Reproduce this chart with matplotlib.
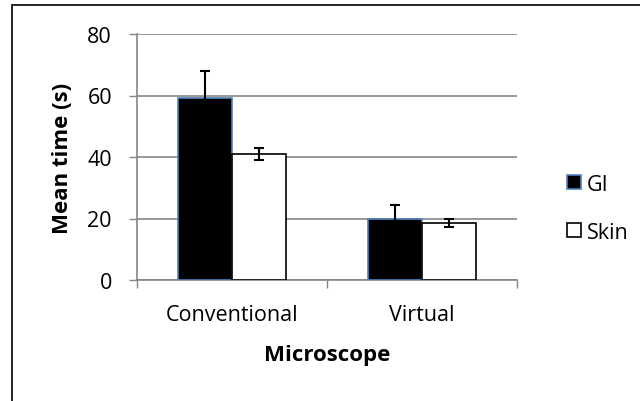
import numpy as np
import matplotlib.pyplot as plt
from matplotlib.patches import Patch, Rectangle

categories = ['Conventional', 'Virtual']
gi_mean = [59.2, 20.0]
gi_err = [8.8, 4.5]
skin_mean = [41.0, 18.5]
skin_err = [2.0, 1.4]

plt.rcParams['font.family'] = ['Open Sans', 'DejaVu Sans']
FS = 15.5

fig = plt.figure(figsize=(6.4, 4.02), dpi=100)
ax = fig.add_axes([137/640, 1 - 281/402, 380/640, 246/402])

# outer chart frame (only left and top edges show in the reference)
fig.patches.append(Rectangle((12/640, -0.1), 1.2, 1 - 6/402 + 0.1,
                             transform=fig.transFigure, fill=False,
                             edgecolor='black', linewidth=1.2))

x = np.arange(len(categories))
w = 0.285
ax.bar(x - w/2, gi_mean, w, color='black', edgecolor='#4F81BD', linewidth=1.2,
       label='GI', zorder=3)
ax.bar(x + w/2, skin_mean, w, color='white', edgecolor='black', linewidth=1.2,
       label='Skin', zorder=3)
ax.errorbar(x - w/2, gi_mean, yerr=gi_err, fmt='none', ecolor='black',
            elinewidth=1.5, capsize=3.6, capthick=1.5, zorder=4)
ax.errorbar(x + w/2, skin_mean, yerr=skin_err, fmt='none', ecolor='black',
            elinewidth=1.5, capsize=3.6, capthick=1.5, zorder=4)

ax.set_xlim(-0.5, 1.5)
ax.set_ylim(0, 80)
ax.set_yticks([0, 20, 40, 60, 80])
ax.set_xticks([-0.5, 0.5, 1.5])
ax.set_xticklabels([])
ax.set_xticks(x, minor=True)
ax.set_xticklabels(categories, minor=True)
ax.tick_params(axis='x', which='minor', length=0, pad=17, labelsize=FS)
ax.tick_params(axis='x', which='major', length=6, color='#868686', width=1)
ax.tick_params(axis='y', length=6, color='#868686', width=1, labelsize=FS, pad=12)

ax.yaxis.grid(True, color='#868686', linewidth=1.2, zorder=0)
ax.set_axisbelow(True)
for s in ['top', 'right']:
    ax.spines[s].set_visible(False)
ax.spines['left'].set_color('#868686')
ax.spines['bottom'].set_color('#868686')
ax.spines['left'].set_linewidth(1.2)
ax.spines['bottom'].set_linewidth(1.2)

ax.set_ylabel('Mean time (s)', fontsize=FS + 0.5, fontweight='bold', labelpad=10.5)
ax.set_xlabel('Microscope', fontsize=FS + 0.5, fontweight='bold', labelpad=14)

handles = [Patch(facecolor='black', edgecolor='#4F81BD', linewidth=1.2),
           Patch(facecolor='white', edgecolor='black', linewidth=1.2)]
fig.legend(handles, ['GI', 'Skin'], loc='upper left',
           bbox_to_anchor=(558/640, 1 - 166/402), frameon=False,
           fontsize=FS, handlelength=0.65, handleheight=0.65,
           handletextpad=0.3, labelspacing=1.25, borderaxespad=0)

fig.savefig('out.png', dpi=100)
